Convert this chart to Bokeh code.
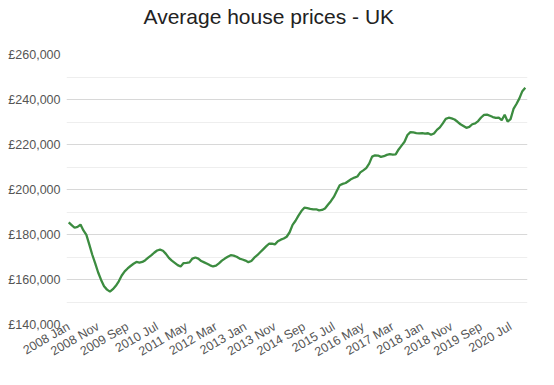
from bokeh.plotting import figure
from bokeh.models import Range1d, FixedTicker, Title
from bokeh.embed import file_html
from bokeh.resources import INLINE
import math

title_text = "Average house prices - UK"

# monthly average price (GBP), Jan 2008 onward
prices = [185400, 184200, 183000, 183400, 184400, 181800, 179800, 175500, 171000, 167200,
          163100, 159800, 157000, 155500, 154600, 155700, 157200, 159200, 161800, 163600,
          164900, 166000, 167000, 167800, 167500, 167800, 168600, 169700, 170700, 171900,
          172900, 173300, 172800, 171400, 169600, 168400, 167400, 166400, 165800, 167300,
          167400, 167600, 169300, 169800, 169300, 168200, 167600, 167000, 166300, 165800,
          166200, 167200, 168400, 169300, 170100, 170800, 170600, 170100, 169300, 168900,
          168400, 167700, 168200, 169700, 170800, 172100, 173400, 174700, 175900, 175900,
          175600, 177000, 177700, 178200, 179000, 181000, 184300, 186100, 188400, 190400,
          191900, 191700, 191400, 191200, 191200, 190700, 190900, 191600, 193200, 194800,
          196700, 199300, 201900, 202500, 202900, 203800, 204700, 205300, 205800, 207600,
          208500, 209500, 211500, 214600, 215200, 215100, 214500, 214800, 215400, 215700,
          215500, 215600, 217800, 219500, 221200, 224200, 225500, 225400, 225100, 224900,
          225100, 224800, 225000, 224300, 224900, 226500, 227600, 229400, 231400, 231900,
          231600, 231100, 230100, 229000, 228200, 227400, 227800, 229000, 229400, 230400,
          232000, 233200, 233300, 232800, 232200, 231800, 231900, 230800, 233200, 230200,
          231300, 235800, 238000, 240500, 243700, 245200]

# x tick labels (every 10th month)
x_tick_labels = ["2008 Jan", "2008 Nov", "2009 Sep", "2010 Jul", "2011 May", "2012 Mar",
                 "2013 Jan", "2013 Nov", "2014 Sep", "2015 Jul", "2016 May", "2017 Mar",
                 "2018 Jan", "2018 Nov", "2019 Sep", "2020 Jul"]
label_step = 10

y_ticks = [140000, 160000, 180000, 200000, 220000, 240000, 260000]
y_minor = [150000, 170000, 190000, 210000, 230000, 250000]
y_tick_labels = ["£140,000", "£160,000", "£180,000", "£200,000", "£220,000", "£240,000", "£260,000"]

xs = list(range(len(prices)))

W, H = 538, 369
BL, BR, BT, BB = 66, 11, 54, 45

p = figure(width=W, height=H, output_backend="svg", toolbar_location=None,
           x_range=Range1d(-0.75, len(prices) - 1 + 0.75),
           y_range=Range1d(y_ticks[0], y_ticks[-1]),
           min_border_left=BL, min_border_right=BR, min_border_top=BT, min_border_bottom=BB,
           title=None)

p.line(xs, prices, line_color="#3c8c40", line_width=2.3)

p.outline_line_color = None
p.background_fill_color = "white"
p.border_fill_color = "white"

# spacer next to the frame (first in the "above" list), then the title outside it
spacer = Title(text=".", text_font_size="1px", standoff=22, text_color="#ffffff")
p.add_layout(spacer, "above")
title = Title(text=title_text, text_font="Liberation Sans", text_font_size="21px",
              text_font_style="normal", text_color="#222222", align="left", offset=77,
              standoff=0, vertical_align="top")
p.add_layout(title, "above")

# y axis
p.yaxis.ticker = FixedTicker(ticks=y_ticks, minor_ticks=y_minor)
p.yaxis.major_label_overrides = {t: s for t, s in zip(y_ticks, y_tick_labels)}
p.yaxis.axis_line_color = None
p.yaxis.major_tick_line_color = None
p.yaxis.minor_tick_line_color = None
p.yaxis.major_tick_out = 0
p.yaxis.major_tick_in = 0
p.yaxis.major_label_standoff = 2
p.yaxis.major_label_text_font = "Liberation Sans"
p.yaxis.major_label_text_font_size = "12.5px"
p.yaxis.major_label_text_color = "#555555"

# x axis
x_ticks = [label_step * k for k in range(len(x_tick_labels))]
p.xaxis.ticker = FixedTicker(ticks=x_ticks)
p.xaxis.major_label_overrides = {t: s for t, s in zip(x_ticks, x_tick_labels)}
p.xaxis.major_label_orientation = math.radians(30)
p.xaxis.axis_line_color = None
p.xaxis.major_tick_line_color = None
p.xaxis.minor_tick_line_color = None
p.xaxis.major_tick_out = 0
p.xaxis.major_tick_in = 0
p.xaxis.major_label_standoff = 1
p.xaxis.major_label_text_font = "Liberation Sans"
p.xaxis.major_label_text_font_size = "12.5px"
p.xaxis.major_label_text_color = "#555555"

# grid
p.xgrid.visible = False
p.ygrid.grid_line_color = "#d8d8d8"
p.ygrid.grid_line_width = 1
p.ygrid.minor_grid_line_color = "#eeeeee"
p.ygrid.minor_grid_line_width = 1

open("out.html", "w").write(file_html(p, INLINE))
